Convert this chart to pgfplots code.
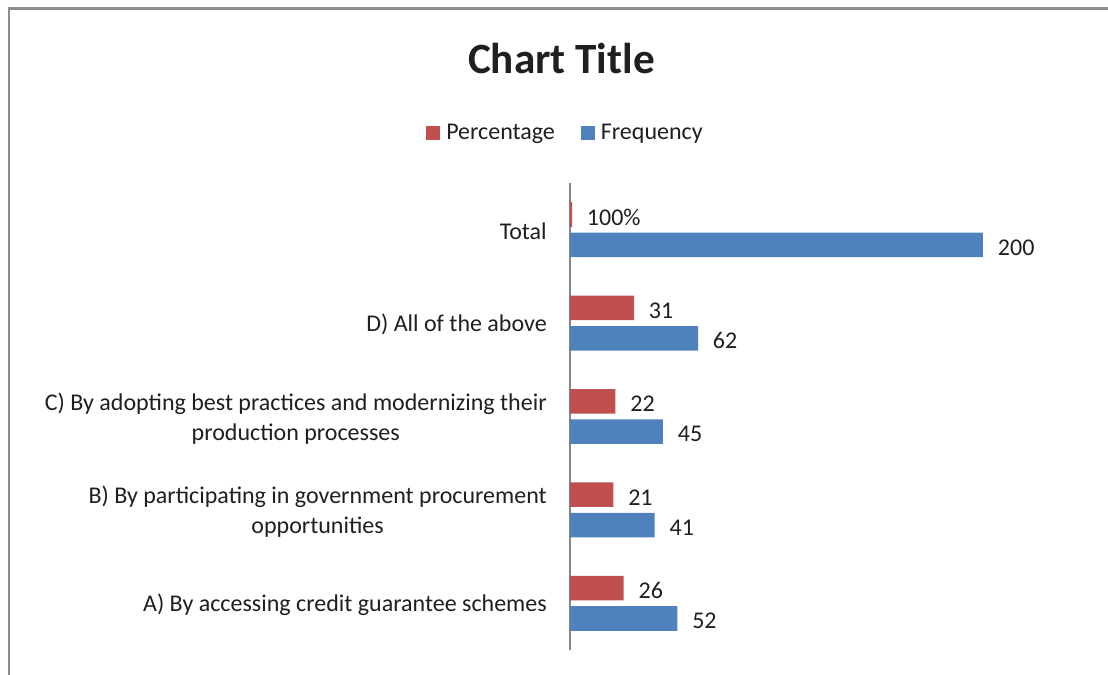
\documentclass[border=0pt]{standalone}
\usepackage{fontspec}
\setmainfont{Carlito}
\usepackage{pgfplots}
\pgfplotsset{compat=1.18}
\definecolor{cred}{HTML}{C0504D}
\definecolor{cblue}{HTML}{4F81BD}
\definecolor{framegray}{HTML}{8C8C8C}
\definecolor{axisgray}{HTML}{868686}
\definecolor{txt}{HTML}{1F1F1F}
\begin{document}
\begin{tikzpicture}
\useasboundingbox (0,0) rectangle (831pt,506.25pt);
\draw[framegray, line width=1.7pt] (6.75pt,-1pt) -- (6.75pt,499.9pt) -- (832pt,499.9pt);
\begin{axis}[
  at={(427.5pt,18.75pt)}, anchor=south west,
  scale only axis, width=309.75pt, height=350.25pt,
  xbar, bar width=18.4pt,
  xmin=0, xmax=200, ymin=-0.5, ymax=4.5,
  clip=false,
  axis x line=none,
  axis y line=left,
  y axis line style={-, draw=axisgray, line width=1.1pt},
  ytick={0,1,2,3,4},
  yticklabels={
    {A) By accessing credit guarantee schemes},
    {B) By participating in government procurement\\opportunities},
    {C) By adopting best practices and modernizing their\\production processes},
    {D) All of the above},
    {Total}},
  major tick length=0pt,
  yticklabel style={anchor=east, align=center, inner sep=0pt, xshift=-17.25pt, yshift=-1.3pt,
    font=\fontsize{18}{22.5}\selectfont, text=txt},
  point meta=explicit symbolic,
  nodes near coords,
  every node near coord/.append style={anchor=west, inner sep=0pt, xshift=11pt, yshift=-2pt,
    font=\fontsize{18}{22.5}\selectfont, text=txt},
  title={Chart Title},
  title style={at={(axis description cs:-0.0207,1.218)}, anchor=base, inner sep=0pt,
    font=\fontsize{32.4}{38}\selectfont\bfseries, text=txt},
  legend columns=2,
  legend image code/.code={\fill[#1] (0pt,0pt) rectangle (10.5pt,10.5pt);},
  legend style={at={(axis description cs:-0.3487,1.107)}, anchor=west,
    draw=none, fill=none, inner sep=0pt, row sep=0pt,
    nodes={inner sep=0pt, anchor=base west, font=\fontsize{18}{22.5}\selectfont, text=txt},
    /tikz/every odd column/.append style={column sep=4.5pt},
    /tikz/every even column/.append style={column sep=19.5pt}},
]
\addplot[fill=cred, draw=none, bar shift=11.4pt] coordinates {
  (26,0) [26]
  (21,1) [21]
  (22,2) [22]
  (31,3) [31]
  (1,4) [100\%]
};
\addlegendentry{Percentage}
\addplot[fill=cblue, draw=none, bar shift=-11.4pt] coordinates {
  (52,0) [52]
  (41,1) [41]
  (45,2) [45]
  (62,3) [62]
  (200,4) [200]
};
\addlegendentry{Frequency}
\end{axis}
\end{tikzpicture}
\end{document}
